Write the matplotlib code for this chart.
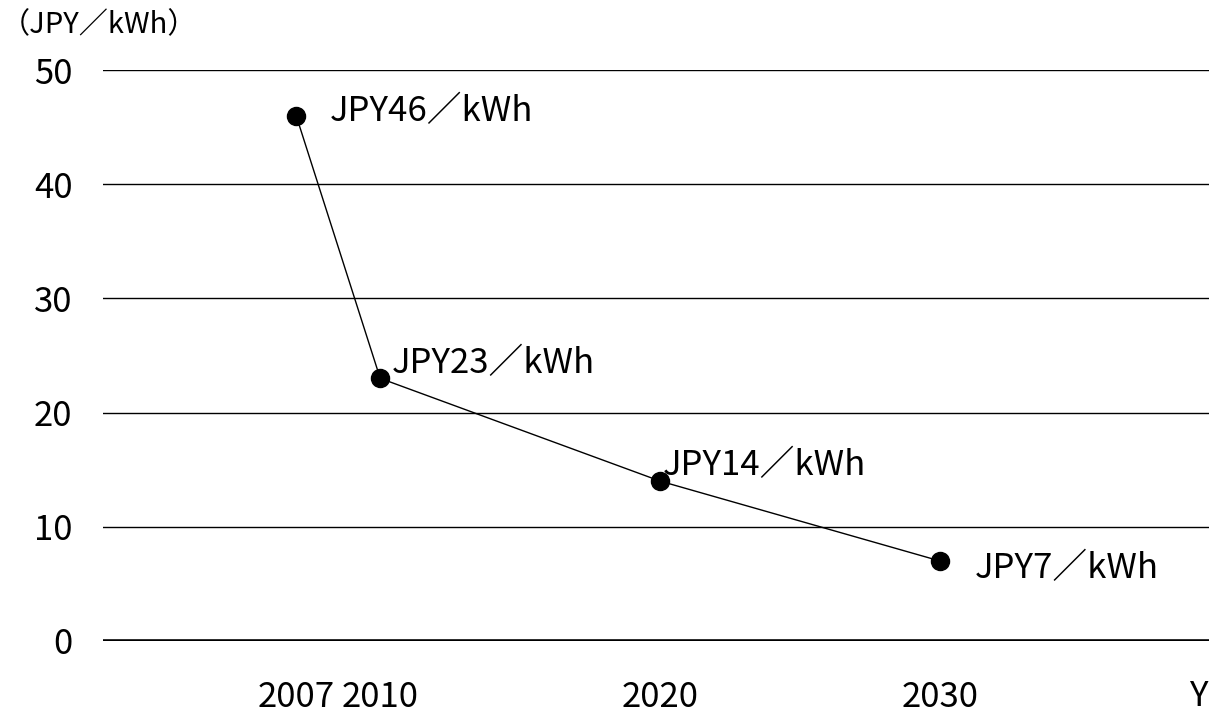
import matplotlib
matplotlib.use('Agg')
from matplotlib import pyplot as plt

plt.rcParams['font.family'] = ['Noto Sans CJK JP', 'DejaVu Sans']

years = [2007, 2010, 2020, 2030]
cost = [46, 23, 14, 7]
labels = ['JPY46／kWh', 'JPY23／kWh', 'JPY14／kWh', 'JPY7／kWh']
offsets = [(24, 3), (8, 10.5), (2, 11.5), (25, -5.5)]
xtick_labels = ['2007', '2010', '2020', '2030']
yticks = [0, 10, 20, 30, 40, 50]

fig = plt.figure(figsize=(12.09, 7.13), dpi=100)
ax = fig.add_axes([103 / 1209, (713 - 641) / 713, 1 - 103 / 1209, (641 - 70) / 713])

for y in yticks[1:]:
    ax.axhline(y, color='black', linewidth=1.0, zorder=1)
ax.axhline(0, color='black', linewidth=2.6, zorder=1)

ax.plot(years, cost, color='black', linewidth=1.0, marker='o', markersize=13, zorder=3)
for x, y, lab, off in zip(years, cost, labels, offsets):
    ax.annotate(lab, (x, y), xytext=off, textcoords='offset points',
                ha='left', va='center', fontsize=25)

ax.set_xlim(2000.1, 2039.6)
ax.set_ylim(0, 50)
ax.set_xticks(years)
ax.set_xticklabels(xtick_labels, fontsize=25)
ax.set_yticks(yticks)
ax.set_yticklabels([str(v) for v in yticks], fontsize=25)
ax.tick_params(length=0)
ax.tick_params(axis='y', pad=22)
ax.tick_params(axis='x', pad=28)
for s in ax.spines.values():
    s.set_visible(False)

fig.text(0.001, 1 - 25 / 713, '（JPY／kWh）', fontsize=21, ha='left', va='center')
fig.text(1189 / 1209, 1 - 697 / 713, 'Y', fontsize=25, ha='left', va='center')

fig.savefig('out.png', dpi=100)
